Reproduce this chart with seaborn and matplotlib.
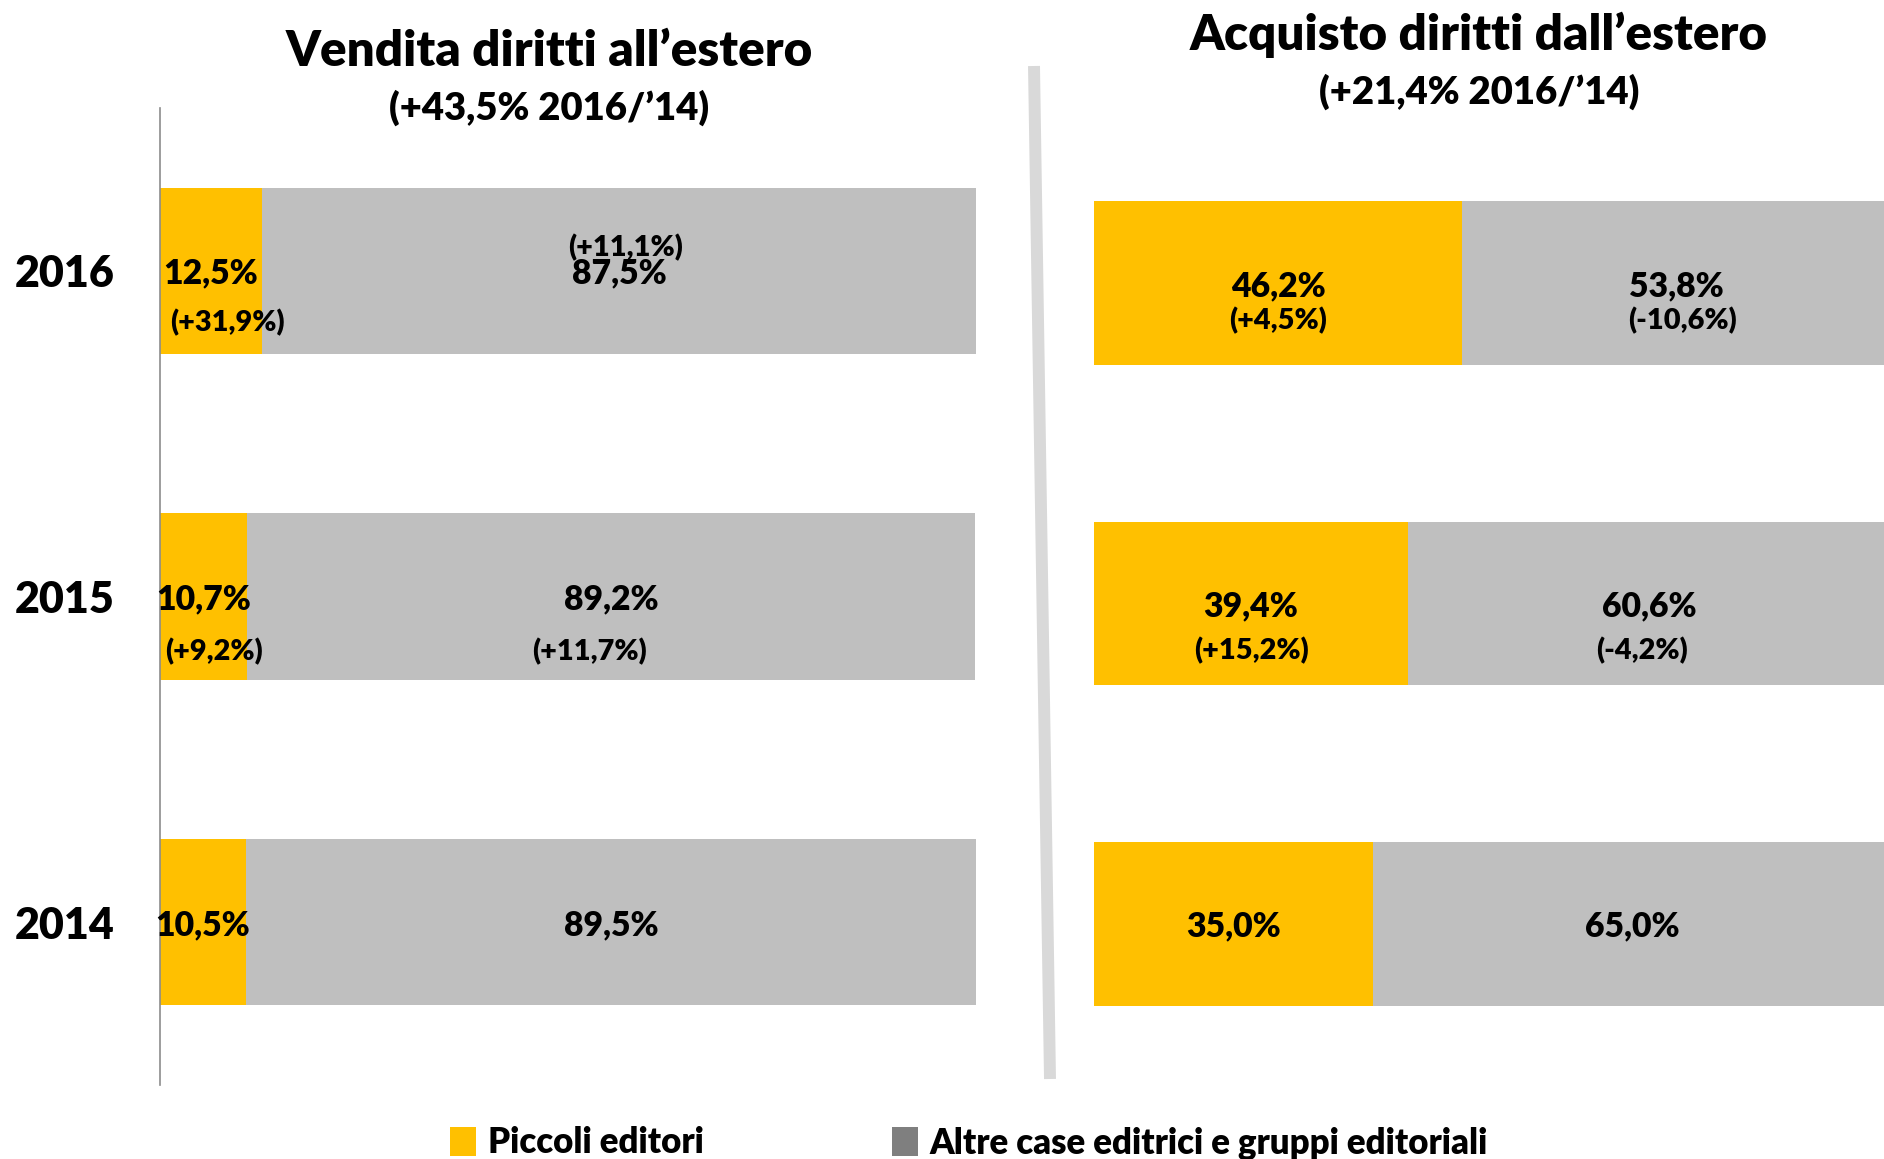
import matplotlib
matplotlib.use("Agg")
import matplotlib.pyplot as plt
from matplotlib.lines import Line2D
from matplotlib.patches import Patch
import seaborn as sns

# Data
years = ["2016", "2015", "2014"]
groups = ["Piccoli editori", "Altre case editrici e gruppi editoriali"]

sales_small = [12.5, 10.7, 10.5]
sales_other = [87.5, 89.2, 89.5]
sales_small_var = ["(+31,9%)", "(+9,2%)", ""]
sales_other_var = ["(+11,1%)", "(+11,7%)", ""]

buy_small = [46.2, 39.4, 35.0]
buy_other = [53.8, 60.6, 65.0]
buy_small_var = ["(+4,5%)", "(+15,2%)", ""]
buy_other_var = ["(-10,6%)", "(-4,2%)", ""]

titles = ["Vendita diritti all\u2019estero", "Acquisto diritti dall\u2019estero"]
subtitles = ["(+43,5% 2016/\u201914)", "(+21,4% 2016/\u201914)"]

YELLOW = "#FFC000"
GRAY = "#BFBFBF"
LEGEND_GRAY = "#7F7F7F"

sns.set_style("white")
plt.rcParams["font.family"] = ["Lato", "DejaVu Sans"]
plt.rcParams["font.weight"] = "heavy"
plt.rcParams["text.color"] = "black"
plt.rcParams["ytick.color"] = "black"

W, H = 1884, 1159
fig = plt.figure(figsize=(W / 100, H / 100), dpi=100)


def px_axes(x0, x1, y0, y1):
    # axes rectangle from pixel edges (top-left origin)
    return fig.add_axes([x0 / W, 1 - y1 / H, (x1 - x0) / W, (y1 - y0) / H])


def fmt(v):
    return f"{v:.1f}%".replace(".", ",")


def draw_panel(ax, small, other, small_var, other_var, sub_offsets):
    totals = [s + o for s, o in zip(small, other)]
    sns.barplot(x=totals, y=years, order=years, orient="y", color=GRAY,
                saturation=1, width=0.51, linewidth=0, ax=ax)
    sns.barplot(x=small, y=years, order=years, orient="y", color=YELLOW,
                saturation=1, width=0.51, linewidth=0, ax=ax)
    ax.set_xlim(0, 100)
    ax.set_ylim(2.5, -0.5)
    ax.set_xlabel("")
    ax.set_ylabel("")
    ax.set_xticks([])
    for i in range(len(years)):
        cs = small[i] / 2
        co = small[i] + other[i] / 2
        ax.text(cs, i, fmt(small[i]), ha="center", va="center_baseline", fontsize=24.3)
        ax.text(co, i, fmt(other[i]), ha="center", va="center_baseline", fontsize=24.3)
        (dxs, dys), (dxo, dyo) = sub_offsets[i]
        if small_var[i]:
            ax.text(cs + dxs, i + dys, small_var[i], ha="center", va="center_baseline", fontsize=20.8)
        if other_var[i]:
            ax.text(co + dxo, i + dyo, other_var[i], ha="center", va="center_baseline", fontsize=20.8)


# Left panel: rights sold abroad
ax1 = px_axes(160, 976, 108, 1085)
draw_panel(ax1, sales_small, sales_other, sales_small_var, sales_other_var,
           [((2.0, 0.15), (0.8, -0.08)), ((1.3, 0.16), (-2.7, 0.16)), ((0, 0), (0, 0))])
sns.despine(ax=ax1, left=False, bottom=True, top=True, right=True)
ax1.spines["left"].set_color("#8C8C8C")
ax1.spines["left"].set_linewidth(1.2)
ax1.tick_params(axis="y", length=0, pad=33, labelsize=31)

# Right panel: rights bought from abroad
ax2 = px_axes(1094, 1891, 123, 1084)
draw_panel(ax2, buy_small, buy_other, buy_small_var, buy_other_var,
           [((0, 0.11), (0.8, 0.11)), ((0, 0.14), (-1.0, 0.14)), ((0, 0), (0, 0))])
sns.despine(ax=ax2, left=True, bottom=True, top=True, right=True)
ax2.set_yticks([])

# Titles
fig.text(549 / W, 1 - 52 / H, titles[0], ha="center", va="center", fontsize=35.5)
fig.text(549 / W, 1 - 108 / H, subtitles[0], ha="center", va="center", fontsize=27.5)
fig.text(1479 / W, 1 - 35 / H, titles[1], ha="center", va="center", fontsize=35.5)
fig.text(1479 / W, 1 - 92 / H, subtitles[1], ha="center", va="center", fontsize=27.5)

# Slanted separator
fig.add_artist(Line2D([1034 / W, 1050 / W], [1 - 66 / H, 1 - 1079 / H],
                      color="#D9D9D9", lw=8.6, solid_capstyle="butt"))

# Legend
handles = [Patch(facecolor=YELLOW, edgecolor="none"),
           Patch(facecolor=LEGEND_GRAY, edgecolor="none")]
fig.legend(handles, groups, loc="center", bbox_to_anchor=(969 / W, 1 - 1143 / H),
           ncol=2, frameon=False, fontsize=25, handlelength=0.75, handleheight=0.9,
           handletextpad=0.35, columnspacing=5.4, borderpad=0)

fig.savefig("out.png", dpi=100)
